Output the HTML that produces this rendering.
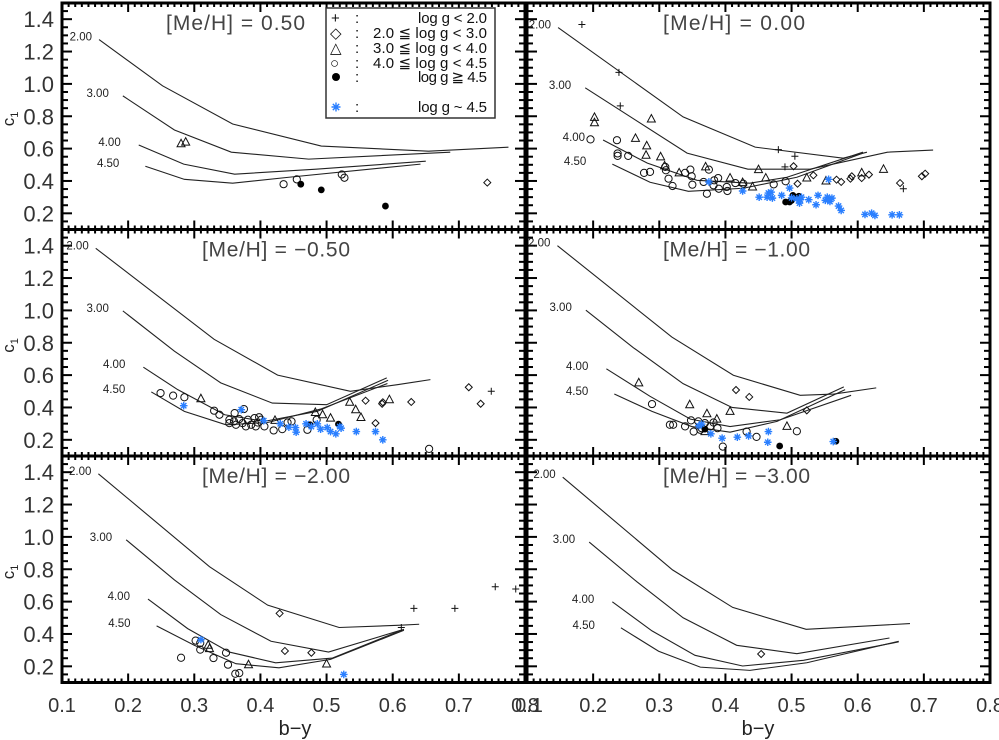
<!DOCTYPE html>
<html><head><meta charset="utf-8">
<style>
html,body{margin:0;padding:0;background:#fff;}
svg{display:block;font-family:"Liberation Sans",sans-serif;}
.pre{white-space:pre;}
</style></head>
<body>
<svg id="chart" width="999" height="740" viewBox="0 0 999 740" xmlns="http://www.w3.org/2000/svg">
<g id="panels"></g>
<g id="legend">
  <rect x="326" y="8" width="169" height="110" fill="#fff" stroke="#333" stroke-width="1.5"/>
  <g font-size="15" fill="#111">
    <text x="331" y="23">+</text><text x="355" y="23">:</text><text x="418" y="23" textLength="69" lengthAdjust="spacing">log g &lt; 2.0</text>
    <text x="330" y="38">◇</text><text x="355" y="38">:</text><text x="373" y="38" textLength="114" lengthAdjust="spacing">2.0 ≦ log g &lt; 3.0</text>
    <text x="330" y="53">△</text><text x="355" y="53">:</text><text x="373" y="53" textLength="114" lengthAdjust="spacing">3.0 ≦ log g &lt; 4.0</text>
    <text x="330" y="68">○</text><text x="355" y="68">:</text><text x="373" y="68" textLength="114" lengthAdjust="spacing">4.0 ≦ log g &lt; 4.5</text>
    <circle cx="336" cy="77" r="4" fill="#000"/><text x="355" y="82">:</text><text x="418" y="82" textLength="69" lengthAdjust="spacing">log g ≧ 4.5</text>
    <text x="355" y="112">:</text><text x="418" y="112" textLength="69" lengthAdjust="spacing">log g ~ 4.5</text>
  </g>
  <g id="legend-star" stroke="#2a7fff" stroke-width="1.4"></g>
</g>
<text x="295" y="735" font-size="20" text-anchor="middle" fill="#222">b−y</text>
<text x="758" y="735" font-size="20" text-anchor="middle" fill="#222">b−y</text>
</svg>
<script>
// ---- Data (b-y, c1) ----
const xTicks = [0.1,0.2,0.3,0.4,0.5,0.6,0.7,0.8];
const yTicks = [0.2,0.4,0.6,0.8,1.0,1.2,1.4];
const yTickLabels = ["0.2","0.4","0.6","0.8","1.0","1.2","1.4"];
const curveLabels = ["2.00","3.00","4.00","4.50"];
const panelTitles = ["[Me/H] = 0.50","[Me/H] = 0.00","[Me/H] = −0.50","[Me/H] = −1.00","[Me/H] = −2.00","[Me/H] = −3.00"];

const curvesP050 = [
 [[0.156,1.274],[0.252,0.988],[0.358,0.752],[0.492,0.616],[0.654,0.584],[0.775,0.609]],
 [[0.192,0.926],[0.270,0.715],[0.356,0.578],[0.473,0.535],[0.687,0.578]],
 [[0.216,0.622],[0.284,0.504],[0.361,0.442],[0.484,0.473],[0.650,0.522]],
 [[0.226,0.491],[0.285,0.410],[0.358,0.386],[0.443,0.423],[0.642,0.504]]];
const curvesP000 = [
 [[0.147,1.348],[0.336,0.796],[0.445,0.609],[0.578,0.541],[0.614,0.578]],
 [[0.188,0.976],[0.342,0.572],[0.434,0.473],[0.528,0.473],[0.645,0.578],[0.714,0.591]],
 [[0.215,0.653],[0.282,0.510],[0.357,0.404],[0.437,0.386],[0.493,0.423],[0.608,0.578]],
 [[0.229,0.504],[0.286,0.392],[0.344,0.336],[0.427,0.355],[0.508,0.423],[0.608,0.572]]];
const curvesM050 = [
 [[0.151,1.384],[0.330,0.821],[0.426,0.600],[0.536,0.500],[0.607,0.541],[0.657,0.572]],
 [[0.192,0.997],[0.270,0.748],[0.340,0.552],[0.418,0.427],[0.500,0.417],[0.591,0.583]],
 [[0.223,0.649],[0.275,0.510],[0.346,0.355],[0.406,0.314],[0.486,0.376],[0.593,0.568]],
 [[0.235,0.496],[0.285,0.376],[0.348,0.293],[0.411,0.307],[0.491,0.390],[0.592,0.548]]];
const curvesM100 = [
 [[0.146,1.400],[0.319,0.835],[0.412,0.599],[0.513,0.475],[0.564,0.483],[0.628,0.521]],
 [[0.189,1.001],[0.261,0.769],[0.336,0.547],[0.410,0.400],[0.493,0.365],[0.579,0.527]],
 [[0.220,0.639],[0.286,0.469],[0.347,0.328],[0.407,0.282],[0.483,0.324],[0.590,0.475]],
 [[0.232,0.483],[0.289,0.376],[0.349,0.282],[0.407,0.247],[0.478,0.314],[0.581,0.510]]];
const curvesM200 = [
 [[0.155,1.390],[0.323,0.816],[0.411,0.578],[0.519,0.440],[0.612,0.454],[0.640,0.460]],
 [[0.197,0.982],[0.270,0.734],[0.340,0.520],[0.416,0.355],[0.503,0.288],[0.612,0.423]],
 [[0.230,0.616],[0.290,0.433],[0.353,0.288],[0.423,0.222],[0.509,0.251],[0.617,0.429]],
 [[0.243,0.450],[0.300,0.330],[0.363,0.216],[0.428,0.191],[0.506,0.243],[0.617,0.423]]];
const curvesM300 = [
 [[0.154,1.369],[0.320,0.796],[0.411,0.564],[0.522,0.429],[0.679,0.464]],
 [[0.194,0.968],[0.266,0.723],[0.336,0.500],[0.417,0.330],[0.508,0.278],[0.648,0.375]],
 [[0.229,0.599],[0.289,0.419],[0.354,0.268],[0.426,0.202],[0.518,0.237],[0.662,0.351]],
 [[0.242,0.438],[0.299,0.293],[0.362,0.195],[0.437,0.175],[0.523,0.222],[0.662,0.355]]];

const plusP050 = [], diamondP050 = [[0.743,0.39]], triangleP050 = [[0.280,0.63],[0.287,0.64]];
const circleP050 = [[0.435,0.38],[0.455,0.41],[0.523,0.44],[0.527,0.42]];
const filledP050 = [[0.461,0.38],[0.492,0.345],[0.589,0.245]], starP050 = [];

const plusP000 = [[0.183,1.367],[0.239,1.071],[0.241,0.864],[0.48,0.594],[0.505,0.553],[0.49,0.487],[0.669,0.352]];
const triangleP000 = [[0.202,0.793],[0.202,0.76],[0.288,0.783],[0.264,0.663],[0.281,0.617],[0.28,0.559],[0.302,0.549],[0.308,0.493],[0.33,0.45],[0.37,0.487],[0.407,0.418],[0.426,0.39],[0.441,0.363],[0.45,0.47],[0.461,0.418],[0.523,0.418],[0.552,0.4],[0.606,0.45],[0.639,0.472]];
const diamondP000 = [[0.503,0.491],[0.509,0.383],[0.533,0.435],[0.568,0.408],[0.575,0.394],[0.591,0.429],[0.606,0.418],[0.617,0.439],[0.664,0.387],[0.697,0.429],[0.702,0.445],[0.589,0.414]];
const circleP000 = [[0.196,0.657],[0.236,0.652],[0.237,0.57],[0.237,0.555],[0.253,0.555],[0.277,0.45],[0.286,0.456],[0.309,0.487],[0.31,0.466],[0.314,0.414],[0.32,0.369],[0.339,0.45],[0.347,0.47],[0.349,0.429],[0.35,0.377],[0.367,0.394],[0.375,0.47],[0.372,0.321],[0.382,0.373],[0.389,0.418],[0.39,0.352],[0.402,0.363],[0.403,0.338],[0.415,0.387],[0.427,0.383],[0.473,0.379],[0.491,0.398],[0.383,0.404]];
const filledP000 = [[0.491,0.27],[0.5,0.28],[0.502,0.311],[0.511,0.305],[0.497,0.27]];
const starP000 = [[0.375,0.394],[0.426,0.338],[0.451,0.3],[0.463,0.3],[0.465,0.325],[0.469,0.331],[0.471,0.294],[0.485,0.311],[0.497,0.356],[0.5,0.296],[0.508,0.29],[0.513,0.284],[0.515,0.3],[0.512,0.263],[0.526,0.284],[0.537,0.253],[0.54,0.311],[0.551,0.28],[0.554,0.3],[0.558,0.273],[0.561,0.294],[0.556,0.41],[0.571,0.245],[0.575,0.218],[0.611,0.193],[0.621,0.201],[0.626,0.187],[0.652,0.191],[0.663,0.191]];

const plusM050 = [[0.749,0.5]];
const circleM050 = [[0.249,0.489],[0.268,0.473],[0.285,0.463],[0.33,0.38],[0.338,0.355],[0.361,0.365],[0.375,0.39],[0.353,0.324],[0.36,0.314],[0.368,0.328],[0.373,0.303],[0.381,0.324],[0.386,0.293],[0.391,0.334],[0.396,0.307],[0.401,0.324],[0.406,0.283],[0.363,0.293],[0.378,0.283],[0.393,0.283],[0.398,0.34],[0.353,0.303],[0.42,0.258],[0.433,0.266],[0.441,0.307],[0.447,0.314],[0.471,0.262],[0.485,0.324],[0.655,0.144]];
const triangleM050 = [[0.31,0.454],[0.422,0.32],[0.483,0.369],[0.494,0.355],[0.506,0.334],[0.535,0.432],[0.544,0.386],[0.552,0.338],[0.595,0.448]];
const diamondM050 = [[0.559,0.442],[0.574,0.303],[0.584,0.423],[0.585,0.432],[0.628,0.434],[0.715,0.525],[0.733,0.423]];
const filledM050 = [[0.475,0.293],[0.518,0.297]];
const starM050 = [[0.284,0.411],[0.371,0.386],[0.405,0.318],[0.43,0.299],[0.443,0.278],[0.453,0.276],[0.454,0.247],[0.469,0.299],[0.477,0.282],[0.486,0.299],[0.491,0.266],[0.501,0.276],[0.506,0.251],[0.514,0.237],[0.52,0.282],[0.522,0.272],[0.545,0.251],[0.574,0.251],[0.585,0.2]];

const plusM100 = [];
const triangleM100 = [[0.269,0.552],[0.346,0.417],[0.372,0.361],[0.387,0.328],[0.407,0.376],[0.493,0.283],[0.369,0.251]];
const diamondM100 = [[0.416,0.508],[0.436,0.465],[0.523,0.382]];
const circleM100 = [[0.289,0.421],[0.316,0.293],[0.321,0.293],[0.339,0.283],[0.348,0.32],[0.352,0.251],[0.359,0.314],[0.364,0.272],[0.369,0.303],[0.377,0.283],[0.382,0.307],[0.388,0.272],[0.362,0.262],[0.396,0.158],[0.432,0.251],[0.447,0.218],[0.508,0.253]];
const filledM100 = [[0.369,0.266],[0.482,0.162],[0.567,0.191]];
const starM100 = [[0.36,0.287],[0.364,0.297],[0.378,0.237],[0.395,0.21],[0.418,0.216],[0.435,0.224],[0.465,0.251],[0.464,0.185],[0.563,0.189]];

const plusM200 = [[0.613,0.44],[0.632,0.558],[0.694,0.558],[0.755,0.692],[0.786,0.678]];
const circleM200 = [[0.28,0.253],[0.302,0.359],[0.309,0.344],[0.309,0.303],[0.329,0.251],[0.348,0.284],[0.351,0.21],[0.362,0.154],[0.368,0.158]];
const triangleM200 = [[0.321,0.33],[0.323,0.309],[0.382,0.21],[0.5,0.214]];
const diamondM200 = [[0.429,0.527],[0.437,0.295],[0.477,0.284]];
const filledM200 = [];
const starM200 = [[0.31,0.365],[0.526,0.15]];

const plusM300 = [], circleM300 = [], triangleM300 = [], filledM300 = [], starM300 = [];
const diamondM300 = [[0.454,0.276]];

const panelCurves = [curvesP050,curvesP000,curvesM050,curvesM100,curvesM200,curvesM300];
const panelPoints = [
 {plus:plusP050,diamond:diamondP050,triangle:triangleP050,circle:circleP050,filled:filledP050,star:starP050},
 {plus:plusP000,diamond:diamondP000,triangle:triangleP000,circle:circleP000,filled:filledP000,star:starP000},
 {plus:plusM050,diamond:diamondM050,triangle:triangleM050,circle:circleM050,filled:filledM050,star:starM050},
 {plus:plusM100,diamond:diamondM100,triangle:triangleM100,circle:circleM100,filled:filledM100,star:starM100},
 {plus:plusM200,diamond:diamondM200,triangle:triangleM200,circle:circleM200,filled:filledM200,star:starM200},
 {plus:plusM300,diamond:diamondM300,triangle:triangleM300,circle:circleM300,filled:filledM300,star:starM300}];

// ---- Layout ----
const NS = "http://www.w3.org/2000/svg";
const colL = [62,527], colW = 463, rowT = [3,229.5,456], rowH = 226.5;
const XMIN=0.1, XMAX=0.8, YMIN=0.1, YMAX=1.5;
const labelGap = [7,14,18,26];
const titleOffset = [104,136,140,136,140,136];
const titleWidth = [139,142,148,147,148,147];
function mk(tag, attrs, parent){const e=document.createElementNS(NS,tag);for(const k in attrs)e.setAttribute(k,attrs[k]);parent.appendChild(e);return e;}
const root = document.getElementById('panels');

function starPath(cx,cy,s){
  let d='';
  for(let a=0;a<4;a++){const t=a*Math.PI/4;const dx=Math.cos(t)*s,dy=Math.sin(t)*s;d+=`M${cx-dx},${cy-dy}L${cx+dx},${cy+dy}`;}
  return d;
}
mk('path',{d:starPath(336,107,4.5)},document.getElementById('legend-star'));

for(let p=0;p<6;p++){
  const col=p%2,row=Math.floor(p/2);
  const x0=colL[col], y0=rowT[row];
  const sx=v=>x0+(v-XMIN)/(XMAX-XMIN)*colW;
  const sy=v=>y0+rowH-(v-YMIN)/(YMAX-YMIN)*rowH;
  const g=mk('g',{},root);
  
  
  const tk=mk('g',{stroke:'#000','stroke-width':2},g);
  for(let v=0.1;v<=0.8001;v+=0.01){
    const major=Math.abs(v*10-Math.round(v*10))<1e-6;
    const L=major?9:4, X=sx(v);
    mk('line',{x1:X,y1:y0,x2:X,y2:y0+L},tk);
    mk('line',{x1:X,y1:y0+rowH,x2:X,y2:y0+rowH-L},tk);
  }
  for(let v=0.1;v<=1.5001;v+=0.05){
    const major=Math.abs(v*5-Math.round(v*5))<1e-6;
    const L=major?10:6, Y=sy(v);
    mk('line',{x1:x0,y1:Y,x2:x0+L,y2:Y},tk);
    mk('line',{x1:x0+colW,y1:Y,x2:x0+colW-L,y2:Y},tk);
  }
  const fr=mk('rect',{x:x0,y:y0,width:colW,height:rowH,fill:'none',stroke:'#000','stroke-width':3},g);
  
  
  const t=mk('text',{x:x0+titleOffset[p],y:y0+27,'font-size':21,fill:'#444',textLength:titleWidth[p],lengthAdjust:'spacing'},g);
  
  
  t.textContent=panelTitles[p];
  if(col===0){
    yTicks.forEach((v,i)=>{
      const tl=mk('text',{x:54,y:sy(v)+8,'font-size':22,fill:'#333','text-anchor':'end'},g);
      
      
      tl.textContent=yTickLabels[i];
    });
    const yt=mk('text',{x:0,y:0,'font-size':17,fill:'#222',transform:`translate(14,${y0+rowH/2+10}) rotate(-90)`},g);
    
    
    yt.innerHTML='c<tspan font-size="11" dy="4">1</tspan>';
  }
  if(row===2){
    xTicks.forEach(v=>{
      if(col===1 && v<0.15) return;
      const xl=mk('text',{x:sx(v),y:712,'font-size':20,fill:'#333','text-anchor':'middle'},g);
      
      
      xl.textContent=v.toFixed(1);
    });
    if(col===1){
      const xl=mk('text',{x:sx(0.1)+2,y:712,'font-size':20,fill:'#333','text-anchor':'middle'},g);
      
      
      xl.textContent='0.1';
    }
  }
  panelCurves[p].forEach((c,i)=>{
    const pl=mk('polyline',{points:c.map(q=>sx(q[0])+','+sy(q[1])).join(' '),fill:'none',stroke:'#222','stroke-width':1.1},g);
    
    
    const lb=mk('text',{x:sx(c[0][0])-labelGap[i],y:sy(c[0][1])+1,'font-size':11.5,fill:'#222','text-anchor':'end'},g);
    
    
    lb.textContent=curveLabels[i];
  });
  const pts=panelPoints[p];
  pts.circle.forEach(q=>{const e=mk('circle',{cx:sx(q[0]),cy:sy(q[1]),r:3.6,fill:'none',stroke:'#111','stroke-width':1},g);
    
    });
  pts.triangle.forEach(q=>{const X=sx(q[0]),Y=sy(q[1]);const e=mk('path',{d:`M${X},${Y-4.5}L${X+4},${Y+3}L${X-4},${Y+3}Z`,fill:'none',stroke:'#111','stroke-width':1},g);
    
    });
  pts.diamond.forEach(q=>{const X=sx(q[0]),Y=sy(q[1]);const e=mk('path',{d:`M${X},${Y-3.5}L${X+3.5},${Y}L${X},${Y+3.5}L${X-3.5},${Y}Z`,fill:'none',stroke:'#111','stroke-width':1},g);
    
    });
  pts.plus.forEach(q=>{const X=sx(q[0]),Y=sy(q[1]);const e=mk('path',{d:`M${X-3.5},${Y}L${X+3.5},${Y}M${X},${Y-3.5}L${X},${Y+3.5}`,fill:'none',stroke:'#111','stroke-width':1},g);
    
    });
  pts.filled.forEach(q=>{const e=mk('circle',{cx:sx(q[0]),cy:sy(q[1]),r:3.4,fill:'#000'},g);
    
    });
  pts.star.forEach(q=>{const e=mk('path',{d:starPath(sx(q[0]),sy(q[1]),3.8),fill:'none',stroke:'#2a7fff','stroke-width':1.4},g);
    
    });
}
</script>
</body></html>
